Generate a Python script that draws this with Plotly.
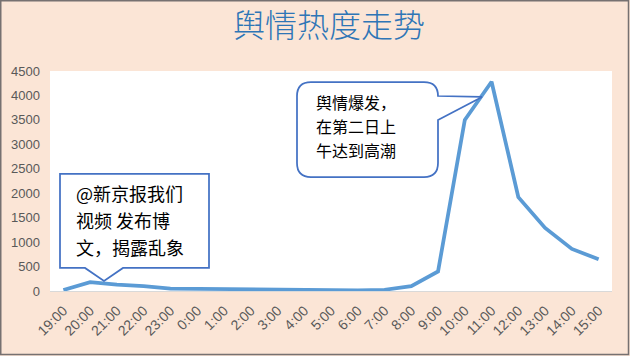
import plotly.graph_objects as go

# ---- data ----
times = ["19:00", "20:00", "21:00", "22:00", "23:00", "0:00", "1:00", "2:00", "3:00",
         "4:00", "5:00", "6:00", "7:00", "8:00", "9:00", "10:00", "11:00", "12:00",
         "13:00", "14:00", "15:00"]
heat = [20, 180, 130, 100, 50, 45, 35, 25, 20, 20, 20, 15, 25, 100, 400, 3500, 4280,
        1920, 1290, 860, 650]
y_ticks = [0, 500, 1000, 1500, 2000, 2500, 3000, 3500, 4000, 4500]

title_text = "舆情热度走势"
left_note = ["@新京报我们", "视频 发布博", "文，揭露乱象"]
right_note = ["舆情爆发，", "在第二日上", "午达到高潮"]

# ---- layout geometry (pixels) ----
W, H = 630, 356
L, R, T, B = 50, 612, 71, 291  # plot area edges


def px(x):
    return (x - L) / (R - L)


def py(y):
    return (B - y) / (B - T)


def P(a, b):
    return f"{px(a):.5f},{py(b):.5f}"


fig = go.Figure()
fig.add_trace(go.Scatter(
    x=times, y=heat, mode="lines",
    line=dict(color="#5B9BD5", width=3.75),
    hoverinfo="x+y", showlegend=False,
))

y_font = dict(family="Liberation Sans, Arial, sans-serif", size=13, color="#595959")
x_font = dict(family="Liberation Sans, Arial, sans-serif", size=14, color="#595959")

fig.update_layout(
    width=W, height=H,
    margin=dict(l=L, r=W - R, t=T, b=H - B, pad=0, autoexpand=False),
    paper_bgcolor="#FBE5D6",
    plot_bgcolor="#FFFFFF",
    title=dict(
        text=title_text,
        x=329 / W, xanchor="center", xref="container",
        y=1 - 25.5 / H, yanchor="middle", yref="container",
        font=dict(family="Noto Sans CJK SC", size=32, color="#2E75B6", weight=300),
    ),
    xaxis=dict(
        type="category", range=[-0.5, len(times) - 0.5],
        showgrid=False, zeroline=False,
        showline=True, linecolor="#D9D9D9", linewidth=1,
        ticks="", tickangle=-45, tickfont=x_font, automargin=False,
        ticklabelstandoff=5,
        fixedrange=True,
    ),
    yaxis=dict(
        range=[0, 4500], tickvals=y_ticks,
        showgrid=False, zeroline=False, showline=False,
        ticks="", ticklabelstandoff=9, tickfont=y_font, automargin=False,
        fixedrange=True,
    ),
)

# ---- callout shapes ----
lx0, lx1, ly0, ly1 = 60, 209, 174, 268
lp = [(lx0, ly0), (lx1, ly0), (lx1, ly1), (123, ly1), (104, 281), (85, ly1), (lx0, ly1)]
left_path = "M " + " L ".join(P(a, b) for a, b in lp) + " Z"

rx0, rx1, ry0, ry1, r = 297, 438, 82, 177, 14
right_path = (
    f"M {P(rx0 + r, ry0)} L {P(rx1 - r, ry0)} Q {P(rx1, ry0)} {P(rx1, ry0 + r)} "
    f"L {P(482, 97)} L {P(rx1, 120)} L {P(rx1, ry1 - r)} Q {P(rx1, ry1)} {P(rx1 - r, ry1)} "
    f"L {P(rx0 + r, ry1)} Q {P(rx0, ry1)} {P(rx0, ry1 - r)} L {P(rx0, ry0 + r)} "
    f"Q {P(rx0, ry0)} {P(rx0 + r, ry0)} Z"
)

for pth in (left_path, right_path):
    fig.add_shape(type="path", path=pth, xref="paper", yref="paper",
                  fillcolor="#FFFFFF", line=dict(color="#4472C4", width=1.75),
                  layer="above")

# outer border
fig.add_shape(type="rect", xref="paper", yref="paper",
              x0=px(0.75), x1=px(628.5), y0=py(0.75), y1=py(354.5),
              line=dict(color="#767171", width=1.5), fillcolor="rgba(0,0,0,0)",
              layer="above")

note_font_l = dict(family="Noto Sans CJK SC", size=18, color="#000000")
note_font_r = dict(family="Noto Sans CJK SC", size=16, color="#000000")
for i, line in enumerate(left_note):
    fig.add_annotation(text=line, xref="paper", yref="paper",
                       x=px(74), y=py(193 + 27 * i), xanchor="left", yanchor="middle",
                       showarrow=False, font=note_font_l)
for i, line in enumerate(right_note):
    fig.add_annotation(text=line, xref="paper", yref="paper",
                       x=px(314), y=py(102 + 24 * i), xanchor="left", yanchor="middle",
                       showarrow=False, font=note_font_r)

fig.write_html(
    "out.html",
    config={"displayModeBar": False},
    post_script="document.body.style.margin='0';document.body.style.overflow='hidden';",
)
